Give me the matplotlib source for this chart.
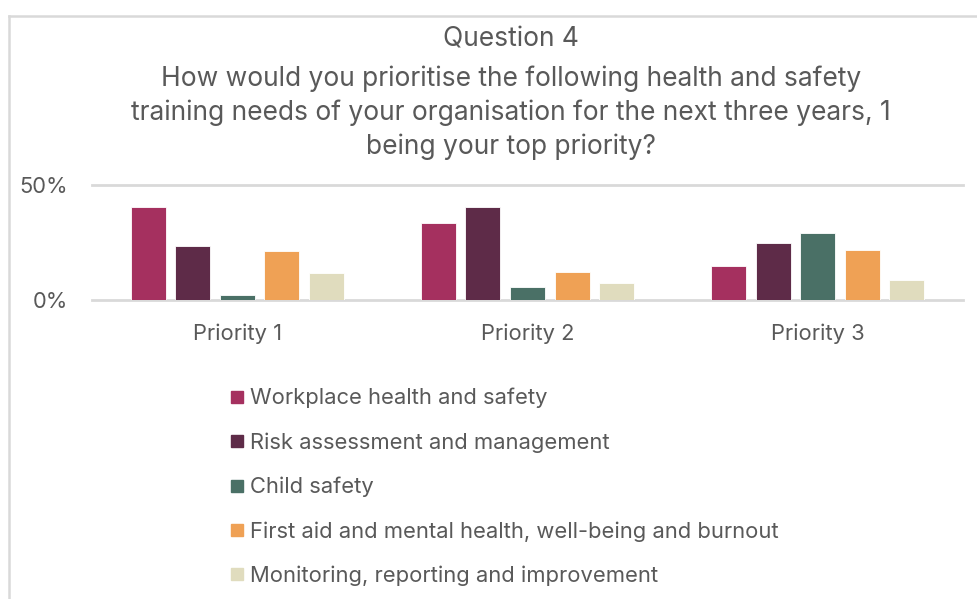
import matplotlib.pyplot as plt
import numpy as np
from matplotlib.lines import Line2D

plt.rcParams['font.family'] = ['Inter', 'DejaVu Sans']

priorities = ['Priority 1', 'Priority 2', 'Priority 3']
needs = ['Workplace health and safety',
         'Risk assessment and management',
         'Child safety',
         'First aid and mental health, well-being and burnout',
         'Monitoring, reporting and improvement']
colors = ['#A5305F', '#5E2B48', '#4A7066', '#EFA155', '#E0DCBE']

# share of responses per need, one value per priority
workplace = [0.402, 0.336, 0.148]
risk = [0.234, 0.402, 0.247]
child = [0.023, 0.058, 0.291]
first_aid = [0.215, 0.123, 0.219]
monitoring = [0.117, 0.075, 0.088]
series = [workplace, risk, child, first_aid, monitoring]

text_color = '#595959'
grid_color = '#D9D9D9'

fig = plt.figure(figsize=(9.77, 5.99), dpi=100)
ax = fig.add_axes([92 / 977, 1 - 300.3 / 599, 871 / 977, 115.6 / 599])

x = np.arange(len(priorities))
width = 0.1206
step = 0.1533
for i, (name, vals) in enumerate(zip(needs, series)):
    ax.bar(x + (i - 2) * step, vals, width, color=colors[i], label=name,
           edgecolor='white', linewidth=0.6, zorder=3)

ax.set_xlim(-0.5, 2.5)
ax.set_ylim(0, 0.5)
ax.set_yticks([0, 0.5])
ax.set_yticklabels(['0%', '50%'])
ax.set_xticks(x)
ax.set_xticklabels(priorities)
ax.tick_params(axis='both', length=0, labelsize=15.8, labelcolor=text_color)
ax.tick_params(axis='y', pad=17)
ax.tick_params(axis='x', pad=16.5)
for s in ax.spines.values():
    s.set_visible(False)
ax.yaxis.grid(True, color=grid_color, linewidth=2, zorder=0)
for gl in ax.get_ygridlines():
    gl.set_clip_on(False)

fig.text(511 / 977, 1 - 40 / 599, 'Question 4', ha='center', va='center',
         fontsize=19, color=text_color)
fig.text(511 / 977, 1 - 113 / 599,
         'How would you prioritise the following health and safety\n'
         'training needs of your organisation for the next three years, 1\n'
         'being your top priority?',
         ha='center', va='center', fontsize=19, color=text_color,
         linespacing=1.37)

handles = [Line2D([], [], marker='s', linestyle='none', markersize=8.8,
                  markerfacecolor=c, markeredgecolor=c) for c in colors]
fig.legend(handles, needs, loc='upper left',
           bbox_to_anchor=(219 / 977, 1 - 377 / 599), frameon=False,
           fontsize=15.8, labelcolor=text_color, handlelength=0.6,
           handletextpad=0.3, labelspacing=1.09, borderpad=0)

# chart frame
fig.add_artist(Line2D([8.5 / 977, 1], [1 - 15.5 / 599, 1 - 15.5 / 599],
                      color=grid_color, linewidth=1.8))
fig.add_artist(Line2D([8.5 / 977, 8.5 / 977], [0, 1 - 15.5 / 599],
                      color=grid_color, linewidth=1.8))

fig.savefig('out.png', dpi=100, facecolor='white')
